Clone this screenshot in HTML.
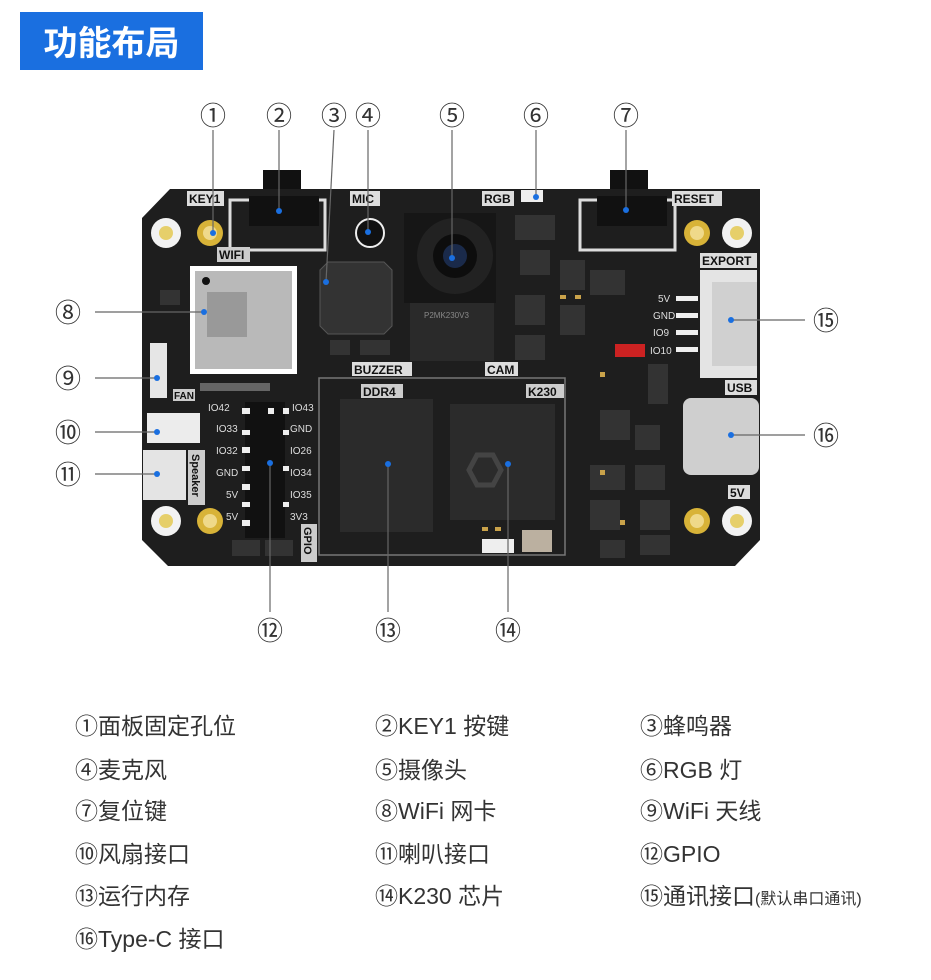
<!DOCTYPE html>
<html><head><meta charset="utf-8"><style>
body{margin:0;background:#fff;width:931px;height:980px;overflow:hidden;font-family:"Liberation Sans","Noto Sans CJK SC",sans-serif}
.t{position:absolute;left:20px;top:12px;width:183px;height:58px;background:#1a6fe0;color:#fff;font-size:34px;font-weight:bold;line-height:58px;text-align:center;font-family:"Noto Sans CJK SC",sans-serif}
.lg{position:absolute;font-size:23px;color:#333;font-family:"Liberation Sans","Noto Sans CJK SC",sans-serif;white-space:nowrap}
.lg small{font-size:16px}
</style></head><body>
<div class="t">功能布局</div>
<svg width="931" height="980" style="position:absolute;left:0;top:0" font-family="Liberation Sans, Noto Sans CJK SC, sans-serif">
<rect x="263" y="170" width="38" height="30" fill="#111"/>
<rect x="610" y="170" width="38" height="30" fill="#111"/>
<polygon points="170,189 760,189 760,540 735,566 168,566 142,540 142,218" fill="#1e1e1e"/>
<g fill="#333">
<rect x="515" y="215" width="40" height="25"/><rect x="520" y="250" width="30" height="25"/><rect x="560" y="260" width="25" height="30"/><rect x="590" y="270" width="35" height="25"/>
<rect x="515" y="295" width="30" height="30"/><rect x="560" y="305" width="25" height="30"/><rect x="515" y="335" width="30" height="25"/>
<rect x="600" y="410" width="30" height="30"/><rect x="635" y="425" width="25" height="25"/><rect x="590" y="465" width="35" height="25"/><rect x="635" y="465" width="30" height="25"/>
<rect x="590" y="500" width="30" height="30"/><rect x="640" y="500" width="30" height="30"/><rect x="600" y="540" width="25" height="18"/><rect x="640" y="535" width="30" height="20"/>
<rect x="160" y="290" width="20" height="15"/><rect x="330" y="340" width="20" height="15"/><rect x="360" y="340" width="30" height="15"/>
</g>
<g fill="#c9a24a"><rect x="560" y="295" width="6" height="4"/><rect x="575" y="295" width="6" height="4"/><rect x="600" y="372" width="5" height="5"/><rect x="600" y="470" width="5" height="5"/><rect x="620" y="520" width="5" height="5"/><rect x="482" y="527" width="6" height="4"/><rect x="495" y="527" width="6" height="4"/></g>
<g fill="#666"><rect x="200" y="383" width="70" height="8"/></g>
<g fill="#f2f2f2"><circle cx="166" cy="233" r="15"/><circle cx="737" cy="233" r="15"/><circle cx="166" cy="521" r="15"/><circle cx="737" cy="521" r="15"/></g>
<g fill="#e6cf6a"><circle cx="166" cy="233" r="7"/><circle cx="737" cy="233" r="7"/><circle cx="166" cy="521" r="7"/><circle cx="737" cy="521" r="7"/></g>
<g fill="#d8b338"><circle cx="210" cy="233" r="13"/><circle cx="697" cy="233" r="13"/><circle cx="210" cy="521" r="13"/><circle cx="697" cy="521" r="13"/></g>
<g fill="#efd98a"><circle cx="210" cy="233" r="7"/><circle cx="697" cy="233" r="7"/><circle cx="210" cy="521" r="7"/><circle cx="697" cy="521" r="7"/></g>
<rect x="230" y="200" width="95" height="50" fill="none" stroke="#ddd" stroke-width="3"/>
<rect x="249" y="196" width="70" height="30" fill="#111"/>
<rect x="580" y="200" width="95" height="50" fill="none" stroke="#ddd" stroke-width="3"/>
<rect x="597" y="196" width="70" height="30" fill="#111"/>
<g font-size="12" font-weight="bold" fill="#111">
<rect x="187" y="191" width="37" height="15" fill="#ddd"/><text x="189" y="203">KEY1</text>
<rect x="217" y="247" width="33" height="15" fill="#ccc"/><text x="219" y="259">WIFI</text>
<rect x="350" y="191" width="30" height="15" fill="#ddd"/><text x="352" y="203">MIC</text>
<rect x="482" y="191" width="32" height="15" fill="#ddd"/><text x="484" y="203">RGB</text>
<rect x="672" y="191" width="50" height="15" fill="#ddd"/><text x="674" y="203">RESET</text>
<rect x="700" y="253" width="57" height="15" fill="#ddd"/><text x="702" y="265">EXPORT</text>
<rect x="352" y="362" width="60" height="14" fill="#ddd"/><text x="354" y="374">BUZZER</text>
<rect x="485" y="362" width="33" height="14" fill="#ddd"/><text x="487" y="374">CAM</text>
<rect x="361" y="384" width="42" height="14" fill="#ccc"/><text x="363" y="396">DDR4</text>
<rect x="526" y="384" width="38" height="14" fill="#ccc"/><text x="528" y="396">K230</text>
<rect x="725" y="380" width="32" height="15" fill="#ddd"/><text x="727" y="392">USB</text>
<rect x="728" y="485" width="22" height="14" fill="#ddd"/><text x="730" y="497">5V</text>
<rect x="173" y="389" width="22" height="12" fill="#ccc"/><text x="174" y="399" font-size="10">FAN</text>
</g>
<circle cx="370" cy="233" r="14" fill="#111" stroke="#eee" stroke-width="2"/>
<rect x="521" y="190" width="22" height="12" fill="#eee"/>
<rect x="190" y="266" width="107" height="108" fill="#fff"/>
<rect x="195" y="271" width="97" height="98" fill="#b9b9b9"/>
<rect x="207" y="292" width="40" height="45" fill="#999"/>
<circle cx="206" cy="281" r="4" fill="#111"/>
<polygon points="328,262 384,262 392,270 392,326 384,334 328,334 320,326 320,270" fill="#333" stroke="#555"/>
<rect x="404" y="213" width="92" height="90" fill="#161616"/>
<circle cx="455" cy="256" r="38" fill="#222"/>
<circle cx="455" cy="256" r="22" fill="#0d0d0d"/>
<circle cx="455" cy="256" r="12" fill="#1a2a4a"/>
<rect x="410" y="303" width="84" height="58" fill="#2a2a2a"/>
<text x="424" y="318" font-size="8" fill="#888">P2MK230V3</text>
<rect x="319" y="378" width="246" height="177" fill="none" stroke="#777" stroke-width="1.5"/>
<rect x="340" y="399" width="93" height="133" fill="#2b2b2b"/>
<rect x="450" y="404" width="105" height="116" fill="#2b2b2b"/>
<polygon points="477,455 493,455 501,470 493,485 477,485 469,470" fill="none" stroke="#444" stroke-width="5"/>
<rect x="482" y="539" width="32" height="14" fill="#eee"/>
<rect x="522" y="530" width="30" height="22" fill="#bbb0a0"/>
<rect x="700" y="270" width="57" height="108" fill="#e4e4e4"/>
<rect x="712" y="282" width="45" height="84" fill="#d0d0d0"/>
<g font-size="10" fill="#ddd"><text x="658" y="302">5V</text><text x="653" y="319">GND</text><text x="653" y="336">IO9</text><text x="650" y="354">IO10</text></g>
<g fill="#eee"><rect x="676" y="296" width="22" height="5"/><rect x="676" y="313" width="22" height="5"/><rect x="676" y="330" width="22" height="5"/><rect x="676" y="347" width="22" height="5"/></g>
<rect x="615" y="344" width="30" height="13" fill="#c22"/>
<rect x="648" y="364" width="20" height="40" fill="#333"/>
<rect x="683" y="398" width="76" height="77" rx="8" fill="#cfcfcf"/>
<rect x="150" y="343" width="17" height="55" fill="#e6e6e6"/>
<rect x="147" y="413" width="53" height="30" fill="#ececec"/>
<rect x="143" y="450" width="43" height="50" fill="#e4e4e4"/>
<rect x="188" y="450" width="17" height="55" fill="#ccc"/>
<text transform="translate(192,454) rotate(90)" font-size="11" font-weight="bold" fill="#111">Speaker</text>
<rect x="245" y="402" width="40" height="136" fill="#111"/>
<g fill="#eee">
<rect x="242" y="408" width="8" height="6"/><rect x="268" y="408" width="6" height="6"/><rect x="283" y="408" width="6" height="6"/>
<rect x="242" y="447" width="8" height="6"/><rect x="242" y="484" width="8" height="6"/><rect x="242" y="520" width="8" height="6"/>
<rect x="242" y="430" width="8" height="5"/><rect x="242" y="466" width="8" height="5"/><rect x="242" y="502" width="8" height="5"/>
<rect x="283" y="430" width="6" height="5"/><rect x="283" y="466" width="6" height="5"/><rect x="283" y="502" width="6" height="5"/>
</g>
<g font-size="10" fill="#ddd">
<text x="208" y="411">IO42</text><text x="292" y="411">IO43</text>
<text x="216" y="432">IO33</text><text x="290" y="432">GND</text>
<text x="216" y="454">IO32</text><text x="290" y="454">IO26</text>
<text x="216" y="476">GND</text><text x="290" y="476">IO34</text>
<text x="226" y="498">5V</text><text x="290" y="498">IO35</text>
<text x="226" y="520">5V</text><text x="290" y="520">3V3</text>
</g>
<rect x="301" y="524" width="16" height="38" fill="#ccc"/>
<text transform="translate(304,527) rotate(90)" font-size="11" font-weight="bold" fill="#111">GPIO</text>
<rect x="232" y="540" width="28" height="16" fill="#333"/><rect x="265" y="540" width="28" height="16" fill="#333"/>
<g stroke="#666" stroke-width="1.2" fill="none">
<line x1="213" y1="130" x2="213" y2="233"/>
<line x1="279" y1="130" x2="279" y2="211"/>
<line x1="334" y1="130" x2="326" y2="282"/>
<line x1="368" y1="130" x2="368" y2="232"/>
<line x1="452" y1="130" x2="452" y2="258"/>
<line x1="536" y1="130" x2="536" y2="197"/>
<line x1="626" y1="130" x2="626" y2="210"/>
<line x1="95" y1="312" x2="204" y2="312"/>
<line x1="95" y1="378" x2="157" y2="378"/>
<line x1="95" y1="432" x2="157" y2="432"/>
<line x1="95" y1="474" x2="157" y2="474"/>
<line x1="731" y1="320" x2="805" y2="320"/>
<line x1="731" y1="435" x2="805" y2="435"/>
<line x1="270" y1="463" x2="270" y2="612"/>
<line x1="388" y1="464" x2="388" y2="612"/>
<line x1="508" y1="464" x2="508" y2="612"/>
</g>
<g fill="#1a6fe0">
<circle cx="213" cy="233" r="3"/><circle cx="279" cy="211" r="3"/><circle cx="326" cy="282" r="3"/><circle cx="368" cy="232" r="3"/><circle cx="452" cy="258" r="3"/><circle cx="536" cy="197" r="3"/><circle cx="626" cy="210" r="3"/>
<circle cx="204" cy="312" r="3"/><circle cx="157" cy="378" r="3"/><circle cx="157" cy="432" r="3"/><circle cx="157" cy="474" r="3"/>
<circle cx="731" cy="320" r="3"/><circle cx="731" cy="435" r="3"/><circle cx="270" cy="463" r="3"/><circle cx="388" cy="464" r="3"/><circle cx="508" cy="464" r="3"/>
</g>
<g font-size="26" fill="#333" text-anchor="middle" font-family="Noto Sans CJK SC, DejaVu Sans, sans-serif">
<text x="213" y="125">①</text><text x="279" y="125">②</text><text x="334" y="125">③</text><text x="368" y="125">④</text><text x="452" y="125">⑤</text><text x="536" y="125">⑥</text><text x="626" y="125">⑦</text>
<text x="68" y="322">⑧</text><text x="68" y="388">⑨</text><text x="68" y="442">⑩</text><text x="68" y="484">⑪</text>
<text x="826" y="330">⑮</text><text x="826" y="445">⑯</text>
<text x="270" y="640">⑫</text><text x="388" y="640">⑬</text><text x="508" y="640">⑭</text>
</g>
</svg>
<div class="lg" style="left:75px;top:707px">①面板固定孔位</div>
<div class="lg" style="left:375px;top:707px">②KEY1 按键</div>
<div class="lg" style="left:640px;top:707px">③蜂鸣器</div>
<div class="lg" style="left:75px;top:751px">④麦克风</div>
<div class="lg" style="left:375px;top:751px">⑤摄像头</div>
<div class="lg" style="left:640px;top:751px">⑥RGB 灯</div>
<div class="lg" style="left:75px;top:792px">⑦复位键</div>
<div class="lg" style="left:375px;top:792px">⑧WiFi 网卡</div>
<div class="lg" style="left:640px;top:792px">⑨WiFi 天线</div>
<div class="lg" style="left:75px;top:835px">⑩风扇接口</div>
<div class="lg" style="left:375px;top:835px">⑪喇叭接口</div>
<div class="lg" style="left:640px;top:835px">⑫GPIO</div>
<div class="lg" style="left:75px;top:877px">⑬运行内存</div>
<div class="lg" style="left:375px;top:877px">⑭K230 芯片</div>
<div class="lg" style="left:640px;top:877px">⑮通讯接口<small>(默认串口通讯)</small></div>
<div class="lg" style="left:75px;top:920px">⑯Type-C 接口</div>
</body></html>
